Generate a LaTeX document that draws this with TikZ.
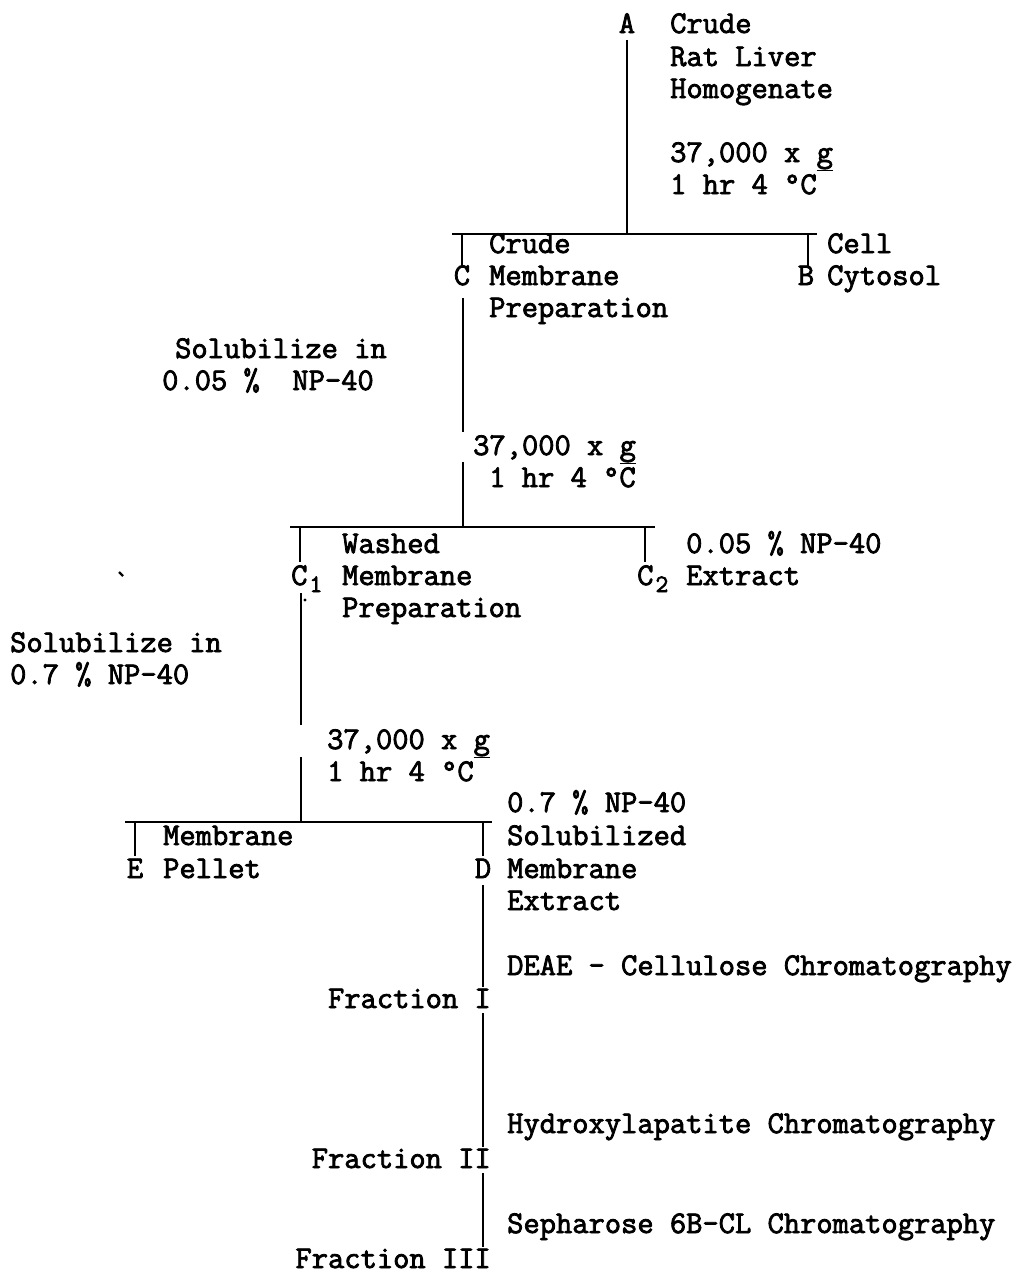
\documentclass[tikz,border=0pt]{standalone}
\usepackage{fontspec}
\setmonofont{Latin Modern Mono}[FakeBold=2.5]
\newcommand{\tyfs}{\ttfamily\fontsize{31.6}{32.5}\selectfont}
\newcommand{\subone}[1]{\kern2pt\raisebox{-7pt}{\fontsize{25}{25}\selectfont #1}}
\begin{document}
\begin{tikzpicture}[x=1pt,y=-1pt,
  lbl/.style={anchor=base west,inner sep=0pt,font=\tyfs},
  lblr/.style={anchor=base east,inner sep=0pt,font=\tyfs},
  lblc/.style={anchor=base,inner sep=0pt,font=\tyfs},
  vline/.style={line width=1.6pt},
  hline/.style={line width=2.4pt}]
\useasboundingbox (0,0) rectangle (1018,1274);
% ---------- A ----------
\node[lblc] (A) at (627,33) {A};
\node[lbl] (a1) at (670,33) {Crude};
\node[lbl] (a2) at (670,66) {Rat Liver};
\node[lbl] (a3) at (670,98) {Homogenate};
\node[lbl] (a4) at (670,162) {37,000 x \underline{g}};
\node[lbl] (a5) at (670,194) {1 hr 4 °C};
\coordinate (Atop) at (627,40);
\coordinate (Abr) at (627,234);
\coordinate (H1l) at (452,234);
\coordinate (H1r) at (817,234);
\draw[vline] (Atop) -- (Abr);
\draw[hline] (H1l) -- (H1r);
% ---------- C and B ----------
\node[lblc] (C) at (462,285) {C};
\node[lbl] (c1) at (489,253) {Crude};
\node[lbl] (c2) at (489,285) {Membrane};
\node[lbl] (c3) at (489,317) {Preparation};
\node[lblc] (B) at (806,285) {B};
\node[lbl] (b1) at (827,253) {Cell};
\node[lbl] (b2) at (827,285) {Cytosol};
\coordinate (Ct) at (462,234);
\coordinate (Cb) at (462,268);
\coordinate (Bt) at (808,234);
\coordinate (Bb) at (808,268);
\draw[vline] (Ct) -- (Cb);
\draw[vline] (Bt) -- (Bb);
\node[lbl] (s1a) at (175,358) {Solubilize in};
\node[lbl] (s1b) at (162,390) {0.05 \%\ \ NP-40};
\node[lbl] (g2a) at (473,455) {37,000 x \underline{g}};
\node[lbl] (g2b) at (489,487) {1 hr 4 °C};
\coordinate (Cl1) at (463,298);
\coordinate (Cl2) at (463,432);
\coordinate (Cl3) at (463,462);
\coordinate (Cl4) at (463,527);
\draw[vline] (Cl1) -- (Cl2);
\draw[vline] (Cl3) -- (Cl4);
\coordinate (H2l) at (290,527);
\coordinate (H2r) at (655,527);
\draw[hline] (H2l) -- (H2r);
% ---------- C1 and C2 ----------
\node[lbl] (C1) at (291,585) {C\subone{1}};
\node[lbl] (w1) at (342,553) {Washed};
\node[lbl] (w2) at (342,585) {Membrane};
\node[lbl] (w3) at (342,617) {Preparation};
\node[lbl] (C2) at (637,585) {C\subone{2}};
\node[lbl] (x1) at (686,553) {0.05 \% NP-40};
\node[lbl] (x2) at (686,585) {Extract};
\coordinate (C1t) at (300,527);
\coordinate (C1b) at (300,562);
\coordinate (C2t) at (645,527);
\coordinate (C2b) at (645,562);
\draw[vline] (C1t) -- (C1b);
\draw[vline] (C2t) -- (C2b);
\fill (305,600) circle (1.6);
\draw[line width=2.2pt] (119,572) -- (123,576);
\node[lbl] (s2a) at (10,652) {Solubilize in};
\node[lbl] (s2b) at (10,684) {0.7 \% NP-40};
\node[lbl] (g3a) at (327,749) {37,000 x \underline{g}};
\node[lbl] (g3b) at (327,781) {1 hr 4 °C};
\coordinate (C1l1) at (301,593);
\coordinate (C1l2) at (301,725);
\coordinate (C1l3) at (301,757);
\coordinate (C1l4) at (301,822);
\draw[vline] (C1l1) -- (C1l2);
\draw[vline] (C1l3) -- (C1l4);
\coordinate (H3l) at (125,822);
\coordinate (H3r) at (492,822);
\draw[hline] (H3l) -- (H3r);
% ---------- E and D ----------
\node[lblc] (E) at (135,878) {E};
\node[lbl] (e1) at (163,845) {Membrane};
\node[lbl] (e2) at (163,878) {Pellet};
\node[lblc] (D) at (483,878) {D};
\node[lbl] (d0) at (507,812) {0.7 \% NP-40};
\node[lbl] (d1) at (507,845) {Solubilized};
\node[lbl] (d2) at (507,878) {Membrane};
\node[lbl] (d3) at (507,910) {Extract};
\coordinate (Et) at (135,822);
\coordinate (Eb) at (135,856);
\coordinate (Dt) at (483,822);
\coordinate (Db) at (483,856);
\draw[vline] (Et) -- (Eb);
\draw[vline] (Dt) -- (Db);
% ---------- chromatography ----------
\node[lbl] (k1) at (507,975) {DEAE - Cellulose Chromatography};
\node[lblr] (f1) at (491,1008) {Fraction I};
\node[lbl] (k2) at (507,1133) {Hydroxylapatite Chromatography};
\node[lblr] (f2) at (491,1168) {Fraction II};
\node[lbl] (k3) at (507,1233) {Sepharose 6B-CL Chromatography};
\node[lblr] (f3) at (491,1268) {Fraction III};
\coordinate (Dl1) at (483,885);
\coordinate (Dl2) at (483,987);
\coordinate (Dl3) at (483,1013);
\coordinate (Dl4) at (483,1147);
\coordinate (Dl5) at (483,1173);
\coordinate (Dl6) at (483,1247);
\draw[vline] (Dl1) -- (Dl2);
\draw[vline] (Dl3) -- (Dl4);
\draw[vline] (Dl5) -- (Dl6);
\end{tikzpicture}
\end{document}
